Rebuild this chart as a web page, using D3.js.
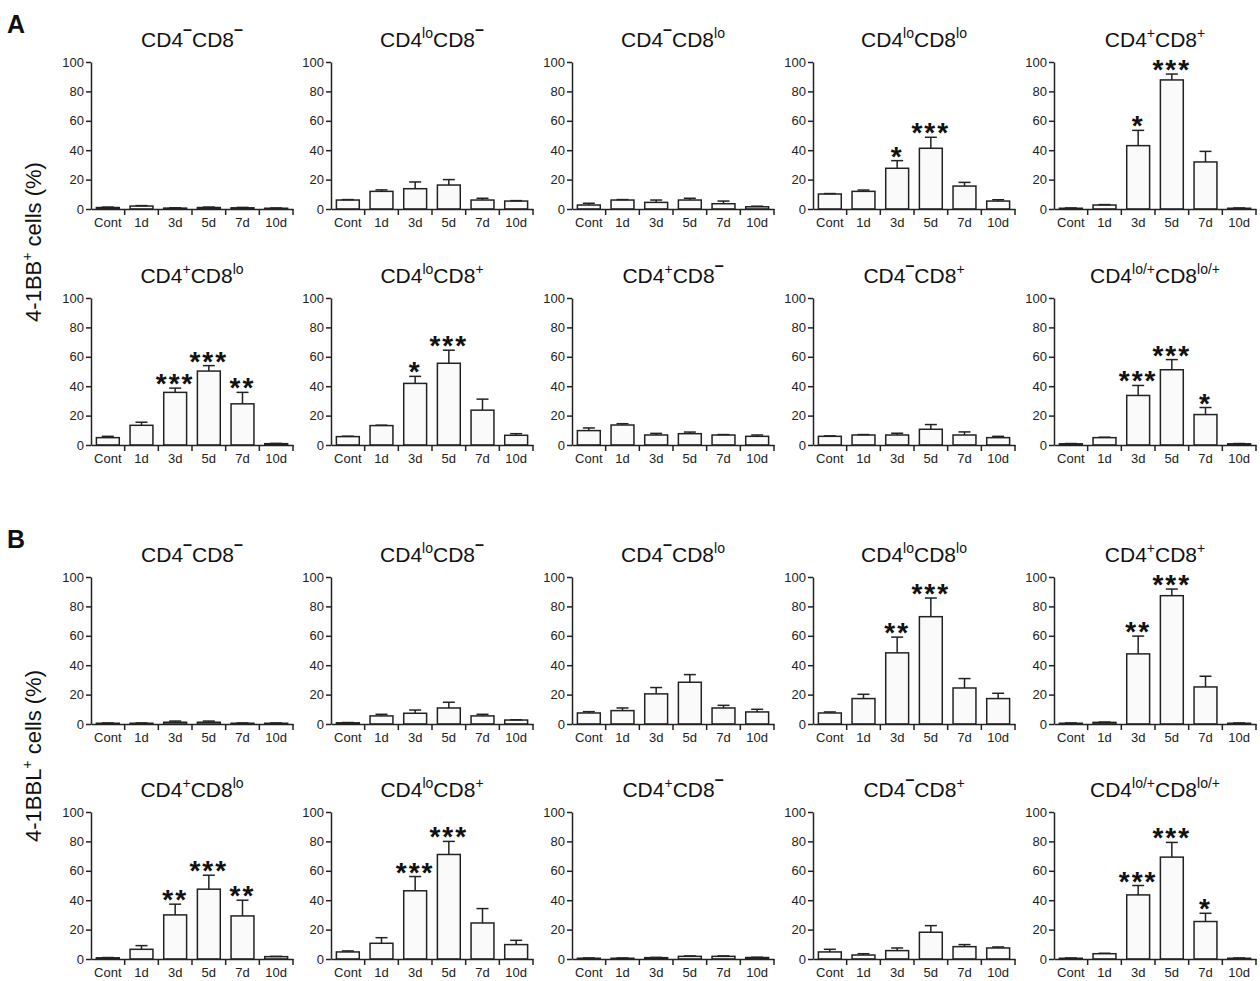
<!DOCTYPE html>
<html>
<head>
<meta charset="utf-8">
<script src="https://cdn.jsdelivr.net/npm/d3@7"></script>
<style>
  body { margin: 0; background: #fff; }
  svg { display: block; font-family: "Liberation Sans", Arial, sans-serif; }
  .axis path, .axis line { stroke: #222; stroke-width: 1.5; }
  .axis text { font-size: 13px; fill: #222; }
</style>
</head>
<body>
<svg id="chart" width="1260" height="981"></svg>
<script>
// categories and tick labels
var days = ['Cont', '1d', '3d', '5d', '7d', '10d'];
var yTicks = [0, 20, 40, 60, 80, 100];

// superscripts of CD4 / CD8 for each of the ten panels
var cd4Sup = ['\u2013', 'lo', '\u2013', 'lo', '+', '+', 'lo', '+', '\u2013', 'lo/+'];
var cd8Sup = ['\u2013', '\u2013', 'lo', 'lo', '+', 'lo', '+', '\u2013', '+', 'lo/+'];

// A: 4-1BB+ cells (%)
var bbMean = [
  [1.0, 2.0, 0.6, 1.0, 0.8, 0.5],
  [6.1, 12.0, 13.8, 16.3, 6.1, 5.4],
  [2.7, 6.1, 4.5, 6.1, 3.6, 1.5],
  [10.2, 12.0, 27.7, 41.3, 15.6, 5.4],
  [0.5, 2.7, 43.1, 87.8, 32.0, 0.5],
  [5.0, 13.4, 35.8, 50.3, 28.0, 0.9],
  [5.7, 13.2, 41.9, 55.6, 23.7, 6.6],
  [9.8, 13.6, 6.8, 7.7, 6.8, 5.9],
  [5.9, 6.8, 6.8, 10.7, 6.8, 5.0],
  [0.8, 5.0, 33.7, 51.2, 20.7, 0.8]
];
var bbErr = [
  [0.3, 0.3, 0.2, 0.3, 0.3, 0.2],
  [0.3, 1.0, 4.6, 3.7, 1.2, 0.3],
  [1.2, 0.3, 1.6, 1.2, 1.8, 0.4],
  [0.3, 0.9, 5.2, 7.5, 2.5, 0.9],
  [0.2, 0.3, 10.4, 4.0, 7.2, 0.2],
  [0.9, 2.1, 2.9, 3.7, 7.8, 0.2],
  [0.3, 0.3, 4.8, 8.9, 7.5, 1.1],
  [1.8, 0.9, 1.1, 1.1, 0.3, 0.9],
  [0.3, 0.3, 1.2, 3.2, 2.1, 0.9],
  [0.2, 0.3, 6.8, 6.9, 4.8, 0.2]
];
var bbStars = [
  [], [], [],
  ['', '', '*', '***', '', ''],
  ['', '', '*', '***', '', ''],
  ['', '', '***', '***', '**', ''],
  ['', '', '*', '***', '', ''],
  [], [],
  ['', '', '***', '***', '*', '']
];

// B: 4-1BBL+ cells (%)
var bblMean = [
  [0.5, 0.5, 1.2, 1.2, 0.5, 0.5],
  [0.8, 5.5, 7.3, 10.9, 5.5, 2.7],
  [7.5, 9.1, 20.5, 28.4, 10.9, 8.2],
  [7.5, 17.3, 48.4, 73.0, 24.5, 17.3],
  [0.5, 1.1, 47.7, 87.3, 25.2, 0.5],
  [0.8, 6.6, 30.0, 47.5, 29.3, 1.6],
  [4.8, 10.7, 46.4, 71.1, 24.5, 9.8],
  [0.5, 0.5, 0.9, 1.8, 1.8, 1.0],
  [4.8, 2.7, 5.7, 18.2, 8.4, 7.5],
  [0.5, 3.6, 43.6, 69.3, 25.5, 0.5]
];
var bblErr = [
  [0.2, 0.2, 0.8, 0.8, 0.2, 0.2],
  [0.2, 1.1, 2.2, 3.9, 1.1, 0.2],
  [0.9, 1.8, 4.3, 5.2, 1.8, 1.8],
  [0.7, 2.9, 10.7, 12.7, 6.4, 3.6],
  [0.2, 0.2, 12.1, 4.5, 7.3, 0.2],
  [0.2, 2.5, 7.3, 9.5, 10.7, 0.2],
  [0.7, 3.8, 9.7, 8.9, 9.8, 2.9],
  [0.2, 0.2, 0.2, 0.3, 0.3, 0.2],
  [1.8, 0.9, 1.8, 4.5, 1.4, 0.7],
  [0.2, 0.3, 6.4, 10.0, 5.6, 0.2]
];
var bblStars = [
  [], [], [],
  ['', '', '**', '***', '', ''],
  ['', '', '**', '***', '', ''],
  ['', '', '**', '***', '**', ''],
  ['', '', '***', '***', '', ''],
  [], [],
  ['', '', '***', '***', '*', '']
];

var colX = [91, 331, 572, 813, 1054];
var plotW = 202, plotH = 147;

var svg = d3.select('#chart');

var x = d3.scaleBand()
    .domain(days)
    .range([0, plotW])
    .paddingInner(0.32)
    .paddingOuter(0.16);

var y = d3.scaleLinear()
    .domain([0, 100])
    .range([plotH, 0]);

function supRaise(s) { return s === '\u2013' ? 12 : 9; }

function addSup(sel, s) {
  var minus = s === '\u2013';
  return sel.append('tspan')
      .attr('dy', -supRaise(s))
      .style('font-size', minus ? '16px' : '14px')
      .style('font-weight', minus ? 'bold' : 'normal')
      .text(s);
}

function drawPanel(left, top, idx, means, errs, stars) {
  var g = svg.append('g')
      .attr('transform', 'translate(' + left + ',' + top + ')');

  // title with superscripts
  var title = g.append('text')
      .attr('x', plotW / 2)
      .attr('y', -15)
      .attr('text-anchor', 'middle')
      .style('font-size', '21px')
      .style('fill', '#111');
  title.append('tspan').text('CD4');
  addSup(title, cd4Sup[idx]);
  title.append('tspan').attr('dy', supRaise(cd4Sup[idx])).text('CD8');
  addSup(title, cd8Sup[idx]);

  // bars
  g.selectAll('rect.bar')
      .data(means)
    .enter().append('rect')
      .attr('class', 'bar')
      .attr('x', function (d, i) { return x(days[i]); })
      .attr('y', function (d) { return y(d); })
      .attr('width', x.bandwidth())
      .attr('height', function (d) { return plotH - y(d); })
      .style('fill', '#fafafa')
      .style('stroke', '#222')
      .style('stroke-width', 1.5);

  // error bars (upper only)
  var cap = 6;
  var eb = g.selectAll('g.err')
      .data(means)
    .enter().append('g')
      .attr('class', 'err')
      .attr('transform', function (d, i) {
        return 'translate(' + (x(days[i]) + x.bandwidth() / 2) + ',0)';
      });
  eb.append('line')
      .attr('y1', function (d) { return y(d); })
      .attr('y2', function (d, i) { return y(d + errs[i]); })
      .style('stroke', '#222').style('stroke-width', 1.5);
  eb.append('line')
      .attr('x1', -cap).attr('x2', cap)
      .attr('y1', function (d, i) { return y(d + errs[i]); })
      .attr('y2', function (d, i) { return y(d + errs[i]); })
      .style('stroke', '#222').style('stroke-width', 1.5);

  // significance stars
  g.selectAll('text.star')
      .data(stars)
    .enter().append('text')
      .attr('class', 'star')
      .attr('x', function (d, i) { return x(days[i]) + x.bandwidth() / 2; })
      .attr('y', function (d, i) { return y(means[i] + errs[i]) + 5; })
      .attr('text-anchor', 'middle')
      .style('font-size', '28px')
      .style('font-weight', 'bold')
      .style('letter-spacing', '2px')
      .style('fill', '#111')
      .text(function (d) { return d; });

  // y axis
  g.append('g')
      .attr('class', 'axis')
      .call(d3.axisLeft(y).tickValues(yTicks).tickSize(5).tickSizeOuter(0).tickPadding(2));

  // x axis: labels centred, ticks between categories
  var xa = g.append('g')
      .attr('class', 'axis')
      .attr('transform', 'translate(0,' + plotH + ')')
      .call(d3.axisBottom(x).tickSize(0).tickSizeOuter(0).tickPadding(9));
  xa.selectAll('.tick').each(function () {
    d3.select(this).append('line')
        .attr('x1', x.step() / 2).attr('x2', x.step() / 2)
        .attr('y1', 0).attr('y2', 6);
  });
}

function drawSection(letter, label, tops, meansAll, errsAll, starsAll, labelY) {
  svg.append('text')
      .attr('x', 7)
      .attr('y', tops[0] - 29)
      .style('font-size', '25px')
      .style('font-weight', 'bold')
      .style('fill', '#111')
      .text(letter);

  var yl = svg.append('text')
      .attr('transform', 'translate(41,' + labelY + ') rotate(-90)')
      .attr('text-anchor', 'middle')
      .style('font-size', '22px')
      .style('fill', '#111');
  yl.append('tspan').text(label);
  yl.append('tspan').attr('dy', -9).style('font-size', '14px').text('+');
  yl.append('tspan').attr('dy', 9).text(' cells (%)');

  for (var k = 0; k < 10; k++) {
    var r = Math.floor(k / 5), c = k % 5;
    drawPanel(colX[c], tops[r], k, meansAll[k], errsAll[k], starsAll[k]);
  }
}

drawSection('A', '4-1BB', [62, 298], bbMean, bbErr, bbStars, 242);
drawSection('B', '4-1BBL', [577, 812], bblMean, bblErr, bblStars, 756);
</script>
</body>
</html>
